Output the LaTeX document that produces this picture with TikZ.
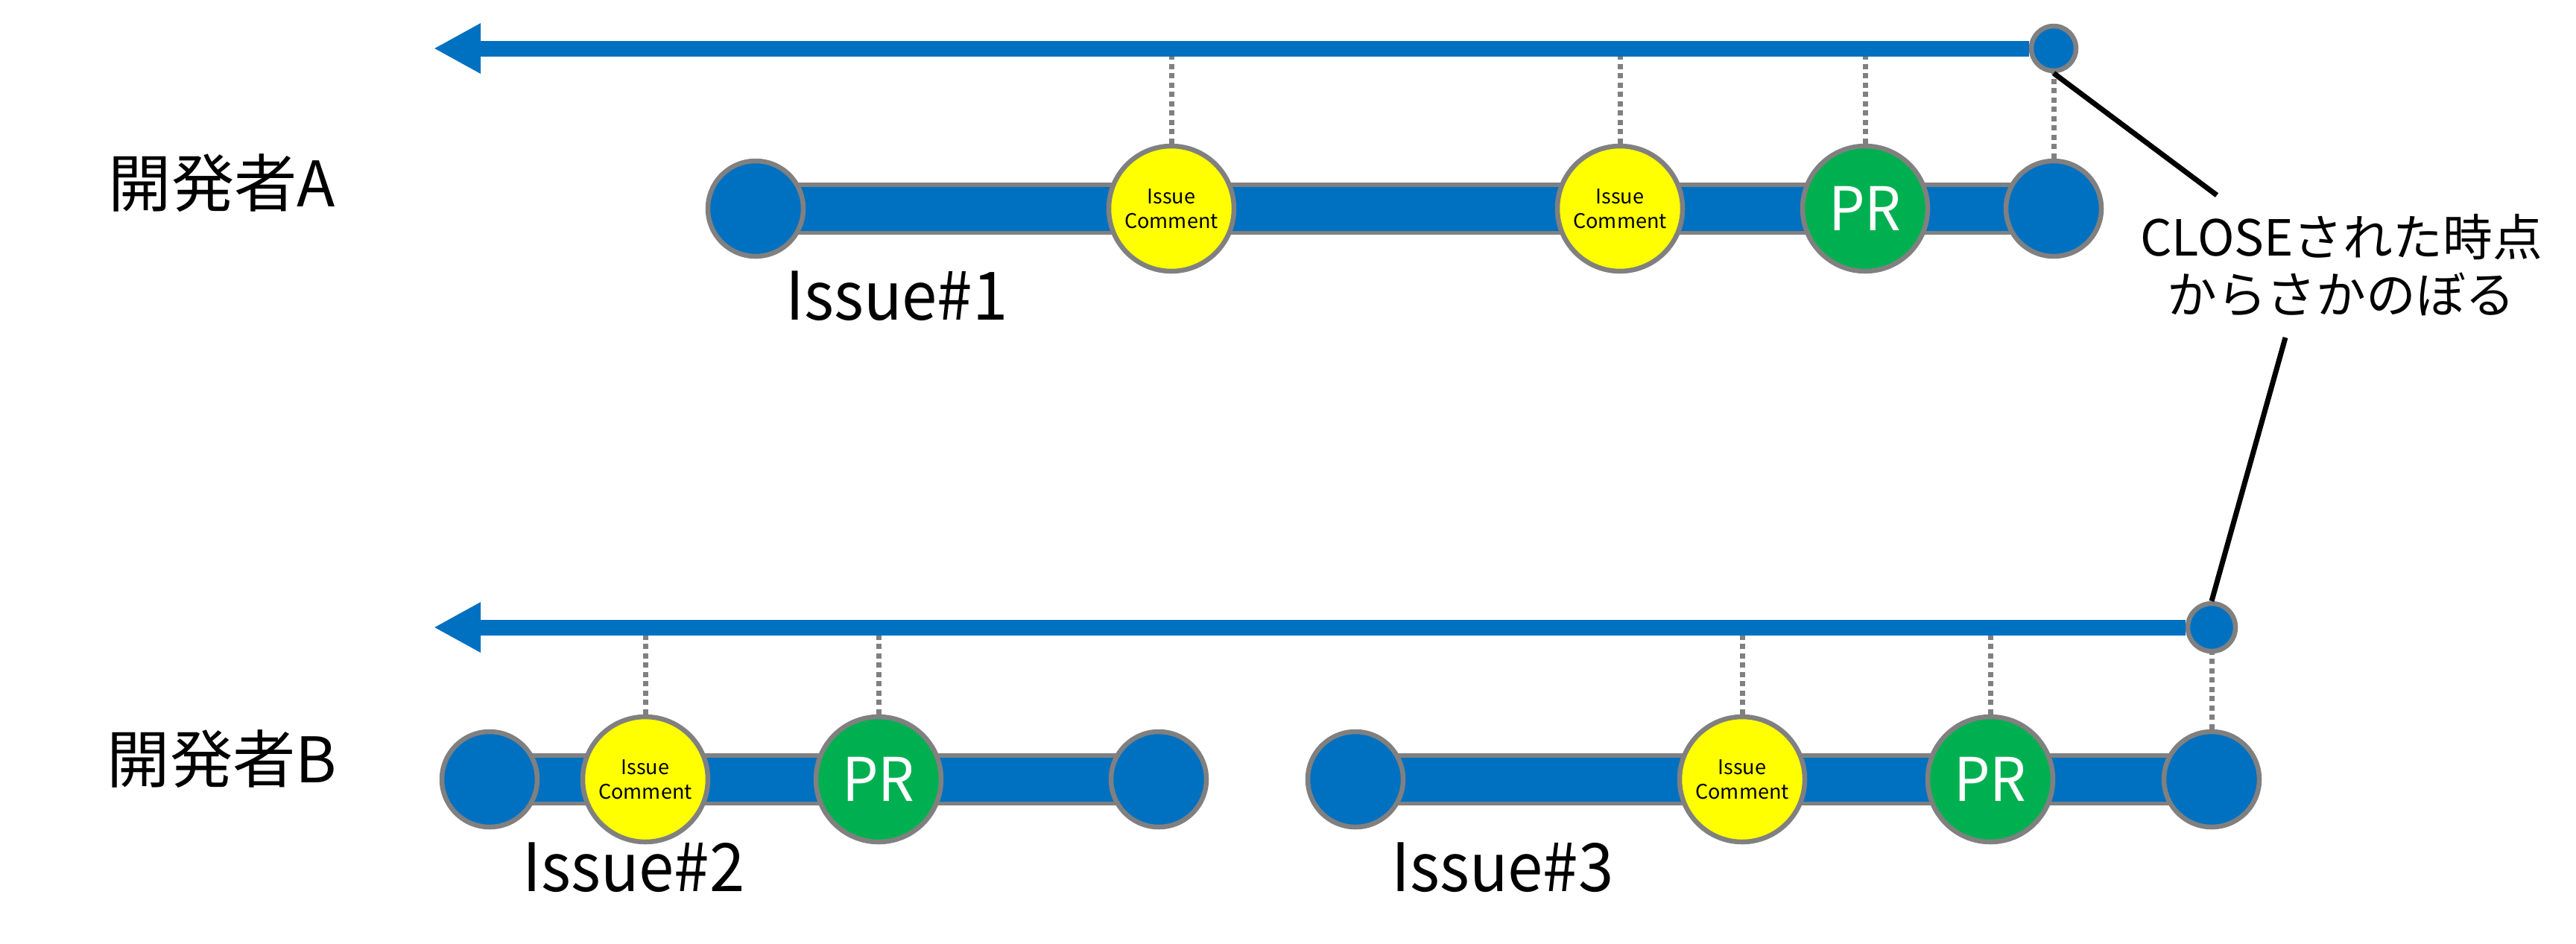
\documentclass[tikz,border=0pt]{standalone}
\usepackage{fontspec}
\setmainfont{Noto Sans CJK JP}
\newfontfamily\narrowfont[FakeStretch=0.95]{Noto Sans CJK JP}
\usetikzlibrary{arrows.meta,backgrounds}
\definecolor{tlblue}{HTML}{0070C0}
\definecolor{cmtyellow}{HTML}{FFFF00}
\definecolor{prgreen}{HTML}{00B050}
\definecolor{rimgray}{HTML}{808080}
\begin{document}
\begin{tikzpicture}[
    evt/.style={circle, fill=tlblue, draw=rimgray, line width=1.85pt, minimum size=1.28cm, inner sep=0pt},
    closept/.style={circle, fill=tlblue, draw=rimgray, line width=1.85pt, minimum size=0.6cm, inner sep=0pt},
    cmt/.style={circle, fill=cmtyellow, draw=rimgray, line width=1.85pt, minimum size=1.68cm, inner sep=0pt,
        align=center, font=\fontsize{7.7}{9.4}\selectfont},
    prnode/.style={circle, fill=prgreen, draw=rimgray, line width=1.85pt, minimum size=1.68cm, inner sep=0pt,
        text=white, font=\narrowfont\fontsize{23}{28}\selectfont},
    bar/.style={draw=rimgray, line width=0.055cm, double=tlblue, double distance=0.59cm},
    timeline/.style={draw=tlblue, line width=0.21cm, -{Triangle[length=0.63cm,width=0.63cm]}},
    tick/.style={draw=rimgray, line width=0.07cm, dash pattern=on 0.07cm off 0.055cm},
    devlabel/.style={font=\fontsize{24}{28}\selectfont},
    issuelabel/.style={anchor=west, font=\narrowfont\fontsize{25.5}{30}\selectfont},
    callout/.style={draw=black, line width=0.07cm}
]
    \useasboundingbox (0,0) rectangle (34.57,-12.66);
    % Developer labels
    \node[devlabel] (devA) at (2.98,-2.46) {開発者A};
    \node[devlabel] (devB) at (2.98,-10.19) {開発者B};
    % Developer A: Issue#1
    \node[evt] (sA) at (10.14,-2.80) {};
    \node[cmt] (cA1) at (15.72,-2.80) {Issue\\Comment};
    \node[cmt] (cA2) at (21.74,-2.80) {Issue\\Comment};
    \node[prnode] (pA) at (25.03,-2.80) {PR};
    \node[evt] (eA) at (27.56,-2.80) {};
    \node[issuelabel] (iss1) at (10.42,-3.97) {Issue\#1};
    % Developer B: Issue#2 and Issue#3
    \node[evt] (sB2) at (6.57,-10.46) {};
    \node[cmt] (cB2) at (8.66,-10.46) {Issue\\Comment};
    \node[prnode] (pB2) at (11.79,-10.46) {PR};
    \node[evt] (eB2) at (15.55,-10.46) {};
    \node[issuelabel] (iss2) at (6.89,-11.64) {Issue\#2};
    \node[evt] (sB3) at (18.19,-10.46) {};
    \node[cmt] (cB3) at (23.38,-10.46) {Issue\\Comment};
    \node[prnode] (pB3) at (26.71,-10.46) {PR};
    \node[evt] (eB3) at (29.68,-10.46) {};
    \node[issuelabel] (iss3) at (18.55,-11.64) {Issue\#3};
    % Bars behind the events
    \begin{scope}[on background layer]
        \draw[bar] (sA.center) -- (eA.center);
        \draw[bar] (sB2.center) -- (eB2.center);
        \draw[bar] (sB3.center) -- (eB3.center);
    \end{scope}
    % Close points and time arrows
    \node[closept] (closeA) at (27.56,-0.65) {};
    \node[closept, minimum size=0.64cm] (closeB) at (29.68,-8.42) {};
    \coordinate (tipA) at (5.82,-0.65);
    \coordinate (tipB) at (5.82,-8.42);
    % Ticks from the time arrows
    \foreach \ev in {cA1,cA2,pA} \draw[tick] (\ev.north) -- (\ev |- tipA);
    \foreach \ev in {cB2,pB2,cB3,pB3} \draw[tick] (\ev.north) -- (\ev |- tipB);
    \draw[tick] (eA.north) -- (closeA.south);
    \draw[tick] (eB3.north) -- (closeB.south);
    \draw[timeline] (closeA.west) -- (tipA);
    \draw[timeline] (closeB.west) -- (tipB);
    % Note
    \node[align=center, font=\fontsize{19}{22}\selectfont] (note) at (31.42,-3.56) {CLOSEされた時点\\からさかのぼる};
    \coordinate (noteA) at (29.75,-2.62);
    \coordinate (noteB) at (30.67,-4.53);
    \draw[callout] (closeA.south) -- (noteA);
    \draw[callout] (noteB) -- (closeB.north);
\end{tikzpicture}
\end{document}
